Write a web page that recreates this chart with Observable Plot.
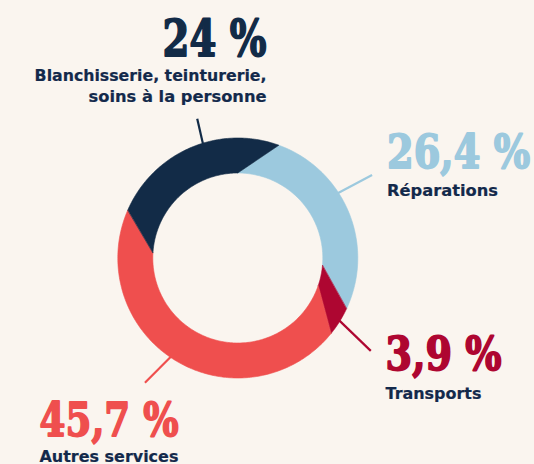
<!DOCTYPE html>
<html><head><meta charset="utf-8">
<script src="https://cdn.jsdelivr.net/npm/d3@7"></script>
<script src="https://cdn.jsdelivr.net/npm/@observablehq/plot@0.6"></script>
<style>
html,body{margin:0;padding:0;background:#FAF5EF;}
#chart svg{display:block;}
</style>
</head><body><div id="chart"></div>
<script>
// ---- data ----
const categories = ["Réparations", "Transports", "Autres services", "Blanchisserie, teinturerie, soins à la personne"];
const shares = [26.4, 3.9, 45.7, 24];
const valueLabels = ["26,4 %", "3,9 %", "45,7 %", "24 %"];
const nameLines = [["Réparations"], ["Transports"], ["Autres services"], ["Blanchisserie, teinturerie,", "soins à la personne"]];
const colors = ["#9CC9DE", "#AE0631", "#EF4F4E", "#122B47"];

// ---- layout (geometry, not data) ----
const W = 534, H = 464;
const CX = 237.3, CY = 257.5, R_OUT = 120, R_IN = 85, TWIST = 20; // degrees outer offset
const leaderLayout = [
  {angle: 57, dir: 62, len: 40},
  {angle: 121.5, dir: 134, len: 45},
  {angle: 214, dir: 225, len: 38},
  {angle: -17, dir: -13, len: 27}
];
const labelLayout = [
  {x: 386.5, y: 167.5, anchor: "start", size: 46, nameY: [195]},
  {x: 385, y: 369.5, anchor: "start", size: 46, nameY: [398.5]},
  {x: 39, y: 435, anchor: "start", size: 46, nameY: [461]},
  {x: 266, y: 55, anchor: "end", size: 51, nameY: [80, 101]}
];
const textWidths = {
  "26,4 %": 143, "3,9 %": 116, "45,7 %": 139, "24 %": 104,
  "Réparations": 111, "Transports": 96, "Autres services": 139,
  "Blanchisserie, teinturerie,": 232, "soins à la personne": 178
};

const rad = d => d * Math.PI / 180;
const px = (r, a) => CX + r * Math.sin(a);
const py = (r, a) => CY - r * Math.cos(a);

// slices from d3.pie
const arcs = d3.pie().sort(null).startAngle(0).endAngle(2 * Math.PI)(shares);
const tw = rad(TWIST);
const slicePts = arcs.map((a, i) => {
  const pts = [];
  const n = Math.max(4, Math.ceil((a.endAngle - a.startAngle) / rad(1)));
  for (let k = 0; k <= n; k++) {
    const t = a.startAngle + (a.endAngle - a.startAngle) * k / n;
    pts.push({x: px(R_IN, t), y: py(R_IN, t)});
  }
  for (let k = n; k >= 0; k--) {
    const t = a.startAngle + tw + (a.endAngle - a.startAngle) * k / n;
    pts.push({x: px(R_OUT, t), y: py(R_OUT, t)});
  }
  return pts;
});

const leaders = leaderLayout.map((l, i) => {
  const a = rad(l.angle), d = rad(l.dir);
  const x1 = px(R_OUT - 2, a), y1 = py(R_OUT - 2, a);
  return {i, x1, y1, x2: x1 + l.len * Math.sin(d), y2: y1 - l.len * Math.cos(d)};
});

const valueMarks = categories.map((c, i) => Plot.text([valueLabels[i]], {
  x: () => labelLayout[i].x, y: () => labelLayout[i].y, text: d => d,
  fill: colors[i], stroke: colors[i], strokeWidth: 1.8, fontSize: labelLayout[i].size, fontWeight: "bold",
  fontFamily: "'DejaVu Serif', serif", textAnchor: labelLayout[i].anchor, lineAnchor: "bottom"
}));
const nameMarks = categories.map((c, i) => Plot.text(nameLines[i].map((t, j) => ({t, j})), {
  x: () => labelLayout[i].x, y: d => labelLayout[i].nameY[d.j], text: "t",
  fill: "#13294B", stroke: "#13294B", strokeWidth: 0.2, fontSize: 16, fontWeight: "bold",
  fontFamily: "'DejaVu Sans', sans-serif", textAnchor: labelLayout[i].anchor, lineAnchor: "bottom"
}));

const chart = Plot.plot({
  width: W, height: H, margin: 0,
  x: {domain: [0, W], range: [0, W], axis: null},
  y: {domain: [0, H], range: [0, H], axis: null},
  style: {background: "#FAF5EF", overflow: "visible"},
  marks: [
    ...leaders.map(l => Plot.link([l], {x1: "x1", y1: "y1", x2: "x2", y2: "y2", stroke: colors[l.i], strokeWidth: 2.2, strokeLinecap: "butt"})),
    ...slicePts.map((pts, i) => Plot.line(pts, {x: "x", y: "y", curve: "linear-closed", fill: colors[i], stroke: colors[i], strokeWidth: 0.6})),
    ...valueMarks,
    ...nameMarks
  ]
});
document.getElementById("chart").appendChild(chart);
// fit each text horizontally to its measured width (scale about its anchor)
const svgRect = chart.getBoundingClientRect();
chart.querySelectorAll("text").forEach(t => {
  const w = textWidths[t.textContent];
  if (!w) return;
  const natural = t.getComputedTextLength();
  if (!natural) return;
  const s = w / natural;
  const bb = t.getBoundingClientRect();
  const anchorEnd = (t.getAttribute("text-anchor") || getComputedStyle(t).textAnchor) === "end";
  const ax = (anchorEnd ? bb.right : bb.left) - svgRect.left;
  const existing = t.getAttribute("transform") || "";
  t.setAttribute("transform", `translate(${ax},0) scale(${s},1) translate(${-ax},0) ${existing}`);
});
</script>
</body></html>
